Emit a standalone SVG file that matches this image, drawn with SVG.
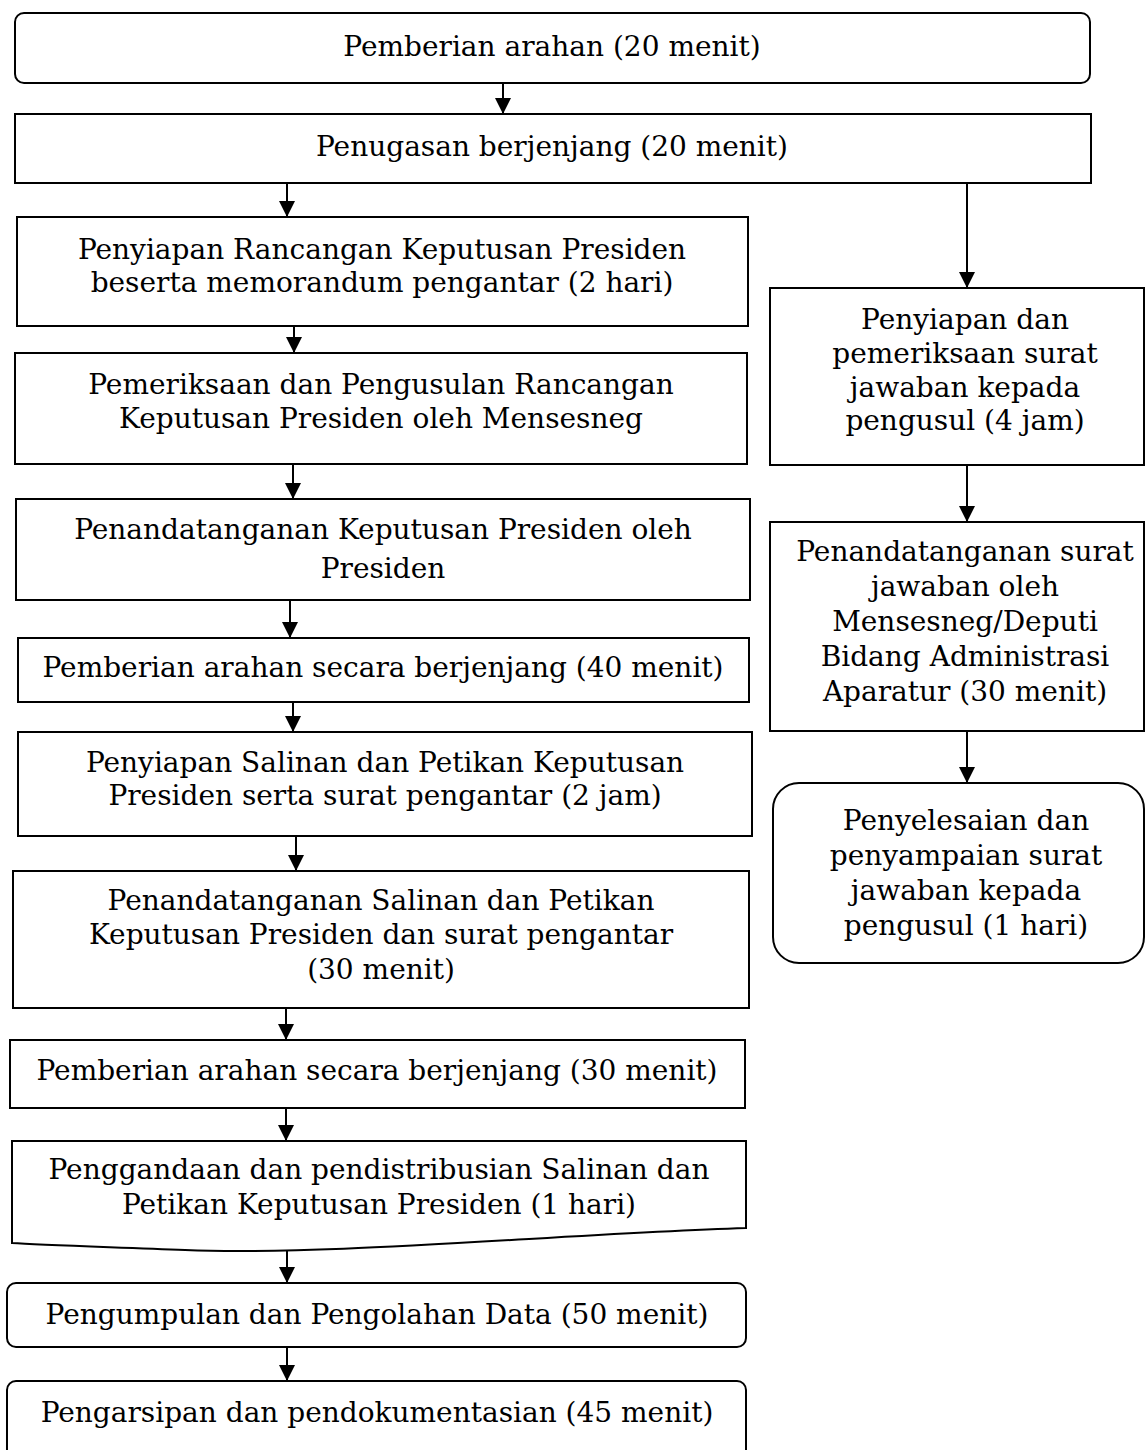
<svg xmlns="http://www.w3.org/2000/svg" width="1145" height="1450" viewBox="0 0 1145 1450">
<defs>
<marker id="ah" markerUnits="userSpaceOnUse" markerWidth="18" markerHeight="18" refX="16" refY="8" orient="auto">
<path d="M0,0 L16,8 L0,16 z" fill="#000"/>
</marker>
<style>
.b{fill:#fff;stroke:#000;stroke-width:2}
.t{font-family:"DejaVu Serif","Liberation Serif",serif;font-size:28px;fill:#000;text-anchor:middle}
.c{stroke:#000;stroke-width:2;fill:none;marker-end:url(#ah)}
</style>
</defs>
<rect width="1145" height="1450" fill="#fff"/>
<g id="connectors">
<line class="c" x1="503" y1="83" x2="503" y2="114"/>
<line class="c" x1="287" y1="183" x2="287" y2="217"/>
<line class="c" x1="967" y1="183" x2="967" y2="288"/>
<line class="c" x1="294" y1="326" x2="294" y2="353"/>
<line class="c" x1="293" y1="464" x2="293" y2="499"/>
<line class="c" x1="290" y1="600" x2="290" y2="638"/>
<line class="c" x1="293" y1="702" x2="293" y2="732"/>
<line class="c" x1="296" y1="836" x2="296" y2="871"/>
<line class="c" x1="286" y1="1008" x2="286" y2="1040"/>
<line class="c" x1="286" y1="1108" x2="286" y2="1141"/>
<line class="c" x1="287" y1="1250" x2="287" y2="1283"/>
<line class="c" x1="287" y1="1347" x2="287" y2="1381"/>
<line class="c" x1="967" y1="465" x2="967" y2="522"/>
<line class="c" x1="967" y1="731" x2="967" y2="783"/>
</g>
<g id="n1"><rect class="b" x="15" y="13" width="1075" height="70" rx="9"/><text class="t" x="552" y="56">Pemberian arahan (20 menit)</text></g>
<g id="n2"><rect class="b" x="15" y="114" width="1076" height="69"/><text class="t" x="552" y="156">Penugasan berjenjang (20 menit)</text></g>
<g id="n3"><rect class="b" x="17" y="217" width="731" height="109"/><text class="t" x="382" y="259">Penyiapan Rancangan Keputusan Presiden</text><text class="t" x="382" y="292">beserta memorandum pengantar (2 hari)</text></g>
<g id="n4"><rect class="b" x="15" y="353" width="732" height="111"/><text class="t" x="381" y="394">Pemeriksaan dan Pengusulan Rancangan</text><text class="t" x="381" y="428">Keputusan Presiden oleh Mensesneg</text></g>
<g id="n5"><rect class="b" x="16" y="499" width="734" height="101"/><text class="t" x="383" y="539">Penandatanganan Keputusan Presiden oleh</text><text class="t" x="383" y="578">Presiden</text></g>
<g id="n6"><rect class="b" x="18" y="638" width="731" height="64"/><text class="t" x="383" y="677">Pemberian arahan secara berjenjang (40 menit)</text></g>
<g id="n7"><rect class="b" x="18" y="732" width="734" height="104"/><text class="t" x="385" y="772">Penyiapan Salinan dan Petikan Keputusan</text><text class="t" x="385" y="805">Presiden serta surat pengantar (2 jam)</text></g>
<g id="n8"><rect class="b" x="13" y="871" width="736" height="137"/><text class="t" x="381" y="910">Penandatanganan Salinan dan Petikan</text><text class="t" x="381" y="944">Keputusan Presiden dan surat pengantar</text><text class="t" x="381" y="979">(30 menit)</text></g>
<g id="n9"><rect class="b" x="10" y="1040" width="735" height="68"/><text class="t" x="377" y="1080">Pemberian arahan secara berjenjang (30 menit)</text></g>
<g id="n10"><path class="b" d="M12,1141 H746 V1228 C560,1234 330,1256 185,1250 C110,1247 40,1245 12,1243 Z"/><text class="t" x="379" y="1179">Penggandaan dan pendistribusian Salinan dan</text><text class="t" x="379" y="1214">Petikan Keputusan Presiden (1 hari)</text></g>
<g id="n11"><rect class="b" x="7" y="1283" width="739" height="64" rx="9"/><text class="t" x="377" y="1324">Pengumpulan dan Pengolahan Data (50 menit)</text></g>
<g id="n12"><rect class="b" x="7" y="1381" width="739" height="100" rx="9"/><text class="t" x="377" y="1422">Pengarsipan dan pendokumentasian (45 menit)</text></g>
<g id="r1"><rect class="b" x="770" y="288" width="374" height="177"/><text class="t" x="965" y="329">Penyiapan dan</text><text class="t" x="965" y="363">pemeriksaan surat</text><text class="t" x="965" y="397">jawaban kepada</text><text class="t" x="965" y="430">pengusul (4 jam)</text></g>
<g id="r2"><rect class="b" x="770" y="522" width="374" height="209"/><text class="t" x="965" y="561">Penandatanganan surat</text><text class="t" x="965" y="596">jawaban oleh</text><text class="t" x="965" y="631">Mensesneg/Deputi</text><text class="t" x="965" y="666">Bidang Administrasi</text><text class="t" x="965" y="701">Aparatur (30 menit)</text></g>
<g id="r3"><rect class="b" x="773" y="783" width="371" height="180" rx="26"/><text class="t" x="966" y="830">Penyelesaian dan</text><text class="t" x="966" y="865">penyampaian surat</text><text class="t" x="966" y="900">jawaban kepada</text><text class="t" x="966" y="935">pengusul (1 hari)</text></g>
</svg>
